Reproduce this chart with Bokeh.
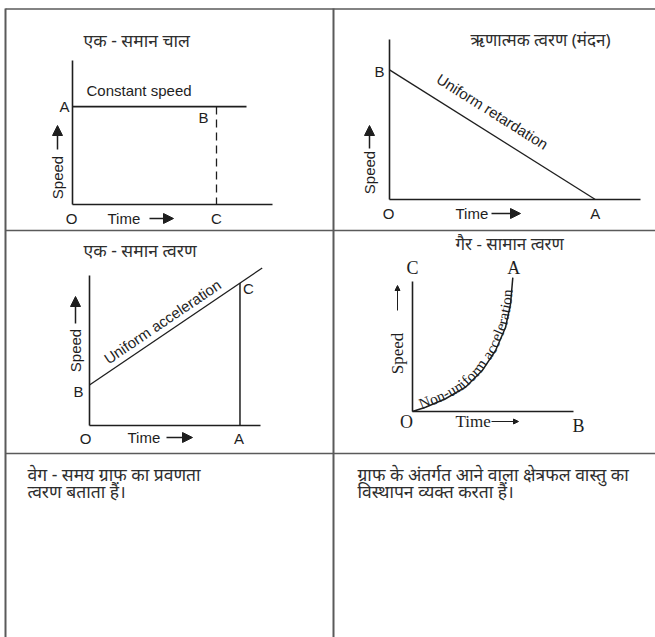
import math
from bokeh.plotting import figure
from bokeh.models import Range1d, Arrow, NormalHead
from bokeh.core.properties import value
from bokeh.embed import file_html
from bokeh.resources import INLINE

# ---------------- data (diagram units: each axis runs 0..10) ----------------
axis_length = 10.0

# Panel 1: uniform speed (A -> B, dashed drop B -> C)
p1_time = [0.0, 8.7]
p1_speed = [6.8, 6.8]
p1_C_time = 7.2

# Panel 2: uniform retardation (B -> A)
p2_time = [0.0, 8.2]
p2_speed = [8.1, 0.0]

# Panel 3: uniform acceleration (B -> C), drop C -> A
p3_time = [0.0, 10.1]
p3_speed = [2.7, 10.5]
p3_C_time = 8.8
p3_C_speed = 9.5

# Panel 4: non-uniform acceleration (O -> A)
p4_time = [0.0, 0.81, 2.05, 3.29, 4.33, 5.16, 5.78, 6.09, 6.23]
p4_speed = [0.0, 0.33, 0.98, 1.87, 3.15, 4.69, 6.48, 8.28, 10.3]

titles = ["एक - समान चाल", "ऋणात्मक त्वरण (मंदन)", "एक - समान त्वरण", "गैर - सामान त्वरण"]
curve_labels = ["Constant speed", "Uniform retardation", "Uniform acceleration", "Non-uniform acceleration"]
note_left = ["वेग - समय ग्राफ का प्रवणता", "त्वरण बताता हैं।"]
note_right = ["ग्राफ के अंतर्गत आने वाला क्षेत्रफल वास्तु का", "विस्थापन व्यक्त करता हैं।"]

# ---------------- layout (page pixels) ----------------
LAYOUT = {
    1: dict(ox=72, oy=204, sx=20.0, sy=14.4),
    2: dict(ox=389, oy=199, sx=25.1, sy=16.0),
    3: dict(ox=89, oy=425, sx=17.1, sy=15.0),
    4: dict(ox=412, oy=411, sx=16.1, sy=13.0),
}
SANS = "Liberation Sans"
SERIF = "Liberation Serif"
DEVA = "Noto Sans"
INK = "#1e1e1e"
DEVA_INK = "#2e2e2e"
GRID = "#5a5a5a"
W, H = 655, 637


def P(panel, t, v):
    L = LAYOUT[panel]
    return L["ox"] + t * L["sx"], L["oy"] - v * L["sy"]


def PX(panel, ts, vs):
    pts = [P(panel, t, v) for t, v in zip(ts, vs)]
    return [a for a, _ in pts], [b for _, b in pts]


p = figure(width=W, height=H, x_range=Range1d(0, W), y_range=Range1d(H, 0),
           output_backend="svg", toolbar_location=None, x_axis_type=None, y_axis_type=None,
           min_border=0, min_border_left=0, min_border_right=0, min_border_top=0, min_border_bottom=0)
p.outline_line_color = None
p.background_fill_color = "white"
p.border_fill_color = "white"


def txt(x, y, s, size=15, font=SANS, align="center", baseline="middle", angle=0.0, color=INK):
    p.text(x=[x], y=[y], text=[s], text_font=value(font), text_font_size=f"{size}px",
           text_align=align, text_baseline=baseline, angle=angle, text_color=color)


def arrow(x0, y0, x1, y1, size=10, lw=1.5):
    p.add_layout(Arrow(end=NormalHead(size=size, fill_color=INK, line_color=INK, line_width=1),
                       x_start=x0, y_start=y0, x_end=x1, y_end=y1,
                       line_width=lw, line_color=INK))


# ---------------- table borders ----------------
p.line([5, W], [8.5, 8.5], line_color=GRID, line_width=1.5)
p.line([5, W], [230, 230], line_color=GRID, line_width=1.5)
p.line([5, W], [453, 453], line_color=GRID, line_width=1.5)
p.line([5, 5], [8, H], line_color=GRID, line_width=2)
p.line([333, 333], [8, H], line_color=GRID, line_width=2)

# ---------------- axes for panels ----------------
for k in (1, 2, 3, 4):
    xs, ys = PX(k, [0, axis_length], [0, 0])
    p.line(xs, ys, line_color=INK, line_width=1.6)
    xs, ys = PX(k, [0, 0], [0, axis_length])
    p.line(xs, ys, line_color=INK, line_width=1.6)

# ---------------- panel 1 ----------------
xs, ys = PX(1, p1_time, p1_speed)
p.line(xs, ys, line_color=INK, line_width=1.6)
xs, ys = PX(1, [p1_C_time, p1_C_time], [p1_speed[0], 0])
p.line(xs, ys, line_color=INK, line_width=1.3, line_dash="8 5")
txt(83, 39, titles[0], size=17.5, font=DEVA, align="left", color=DEVA_INK)
txt(86, 90, curve_labels[0], size=15, align="left")
ax, ay = P(1, 0, p1_speed[0]); txt(ax - 3, ay, "A", align="right")
bx, by = P(1, p1_C_time, p1_speed[0]); txt(bx - 8, by + 11, "B", align="right")
ox, oy = P(1, 0, 0); txt(ox - 1, oy + 14, "O")
cx, cy = P(1, p1_C_time, 0); txt(cx, cy + 14, "C")
txt(107, 218, "Time", align="left")
arrow(149, 218, 173, 218)
txt(57, 177, "Speed", angle=math.pi / 2)
arrow(57, 149, 57, 125)

# ---------------- panel 2 ----------------
xs, ys = PX(2, p2_time, p2_speed)
p.line(xs, ys, line_color=INK, line_width=1.3)
txt(470, 39, titles[1], size=17, font=DEVA, align="left", color=DEVA_INK)
bx, by = P(2, 0, p2_speed[0]); txt(bx - 5, by + 2, "B", align="right")
ox, oy = P(2, 0, 0); txt(ox - 1, oy + 14, "O")
ax, ay = P(2, p2_time[1], 0); txt(ax, ay + 14, "A")
txt(455, 213, "Time", align="left")
arrow(491, 213, 520, 213)
txt(369, 172, "Speed", angle=math.pi / 2)
arrow(369, 148, 369, 125)
x0, y0 = P(2, p2_time[0], p2_speed[0]); x1, y1 = P(2, p2_time[1], p2_speed[1])
ang = math.atan2(-(y1 - y0), x1 - x0)
txt(492, 111, curve_labels[1], size=15, angle=ang)

# ---------------- panel 3 ----------------
xs, ys = PX(3, p3_time, p3_speed)
p.line(xs, ys, line_color=INK, line_width=1.3)
xs, ys = PX(3, [p3_C_time, p3_C_time], [p3_C_speed, 0])
p.line(xs, ys, line_color=INK, line_width=1.5)
txt(83, 249, titles[2], size=17.5, font=DEVA, align="left", color=DEVA_INK)
bx, by = P(3, 0, p3_speed[0]); txt(bx - 6, by + 6, "B", align="right")
cx, cy = P(3, p3_C_time, p3_C_speed); txt(cx + 3, cy + 5, "C", align="left")
ox, oy = P(3, 0, 0); txt(ox - 4, oy + 13, "O")
ax, ay = P(3, p3_C_time, 0); txt(ax - 1, ay + 13, "A")
txt(127, 437, "Time", align="left")
arrow(166, 437, 192, 437)
txt(75, 350, "Speed", angle=math.pi / 2)
arrow(75, 323, 75, 296)
x0, y0 = P(3, p3_time[0], p3_speed[0]); x1, y1 = P(3, p3_time[1], p3_speed[1])
ang = math.atan2(-(y1 - y0), x1 - x0)
txt(162, 321, curve_labels[2], size=15, angle=ang)

# ---------------- panel 4 ----------------
xs, ys = PX(4, p4_time, p4_speed)
p.line(xs, ys, line_color=INK, line_width=1.5, line_join="round")
txt(455, 243, titles[3], size=17, font=DEVA, align="left", color=DEVA_INK)
txt(412, 267, "C", size=18, font=SERIF)
ax, ay = P(4, p4_time[-1], p4_speed[-1]); txt(ax + 1, 267, "A", size=18, font=SERIF)
txt(406, 421, "O", size=18, font=SERIF)
txt(578, 425, "B", size=18, font=SERIF)
txt(455, 421, "Time", size=17, font=SERIF, align="left")
arrow(491, 421, 518, 421, size=5, lw=1)
txt(397, 353, "Speed", size=17, font=SERIF, angle=math.pi / 2)
arrow(397, 310, 397, 285, size=5, lw=1)

# text along the curve, char by char
TIMES_W = {"N": 722, "o": 500, "n": 500, "-": 333, "u": 500, "i": 278, "f": 333, "r": 333,
           "m": 778, " ": 250, "a": 444, "c": 444, "e": 444, "l": 278, "t": 278}
fs = 15.5
cum = [0.0]
for i in range(len(xs) - 1):
    d = math.hypot(xs[i + 1] - xs[i], ys[i + 1] - ys[i])
    cum.append(cum[-1] + d)


def at(s):
    for i in range(len(xs) - 1):
        if s <= cum[i + 1] or i == len(xs) - 2:
            L = cum[i + 1] - cum[i]
            f = (s - cum[i]) / L
            dx = (xs[i + 1] - xs[i]) / L
            dy = (ys[i + 1] - ys[i]) / L
            return xs[i] + f * (xs[i + 1] - xs[i]), ys[i] + f * (ys[i + 1] - ys[i]), dx, dy


s = 9.0
cx_l, cy_l, ca_l, ct_l = [], [], [], []
for ch in curve_labels[3]:
    w = TIMES_W.get(ch, 500) / 1000 * fs
    x, y, dx, dy = at(s)
    _, _, mdx, mdy = at(s + w / 2)
    off = 4.5
    cx_l.append(x + mdy * off)
    cy_l.append(y - mdx * off)
    ca_l.append(math.atan2(-mdy, mdx))
    ct_l.append(ch)
    s += w
p.text(x=cx_l, y=cy_l, text=ct_l, angle=ca_l, text_font=value(SERIF), text_font_size=f"{fs}px",
       text_align="left", text_baseline="alphabetic", text_color=INK)

# ---------------- bottom notes ----------------
txt(27, 473, note_left[0], size=17.5, font=DEVA, align="left", color=DEVA_INK)
txt(27, 490, note_left[1], size=17.5, font=DEVA, align="left", color=DEVA_INK)
txt(357, 473, note_right[0], size=17.5, font=DEVA, align="left", color=DEVA_INK)
txt(357, 490, note_right[1], size=17.5, font=DEVA, align="left", color=DEVA_INK)

open("out.html", "w").write(file_html(p, INLINE))
